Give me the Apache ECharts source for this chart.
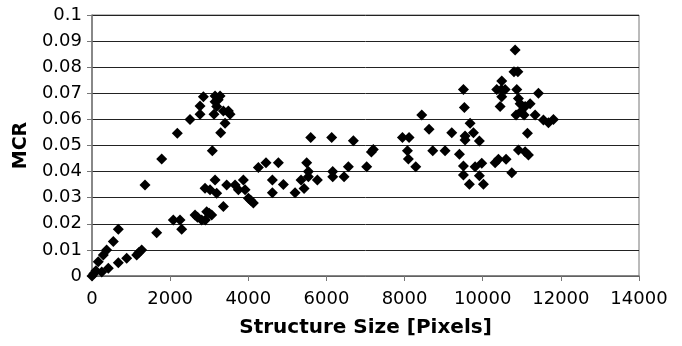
<!DOCTYPE html>
<html>
<head>
<meta charset="utf-8">
<script src="https://cdn.jsdelivr.net/npm/echarts@6/dist/echarts.min.js"></script>
<style>
  html, body { margin: 0; padding: 0; background: #fff; }
  #chart { width: 682px; height: 346px; }
</style>
</head>
<body>
<div id="chart"></div>
<script>
// structure size in pixels (x) and MCR (y)
var sizeValues = [
    0, 50, 100, 250, 160, 290, 375, 546, 674,
    418, 674, 888, 1144, 1200, 1272,
    1357, 1656, 1784, 2081, 2253, 2296, 2184, 2509,
    2765, 2765, 2850, 3149, 3277, 3149, 3192, 3123, 3362, 3490, 3533, 3405, 3294, 3080, 3230,
    2637, 2700, 2808, 2936, 3000, 3064, 2900, 2893, 3021, 3149, 3192, 3362, 3448, 3661, 3874, 3746, 3917, 4002, 4130, 4060,
    4258, 4454, 4770, 4617, 4617, 4898, 5197, 5350, 5427, 5495, 5538, 5538, 5598, 5768, 6135, 6161, 6161, 6451, 6562, 6690, 7031, 7150, 7200,
    7945, 8115, 8440, 8073, 8098, 8286, 8627, 8721,
    9037, 9208, 9404, 9506, 9531, 9677, 9549, 9549, 9762, 9915, 9506, 9805, 9976, 9506, 9915, 9659, 10018, 10317, 10402, 10598, 10744,
    10829, 10800, 10900, 10488, 10360, 10480, 10573, 10872, 11426, 10488, 10914, 10445, 10957, 11213, 11085, 10854, 11059, 11341,
    11554, 11682, 11810, 11145, 10914, 11085, 11170, 10980
];
var mcrValues = [
    0.0, 0.001, 0.002, 0.0015, 0.0055, 0.008, 0.010, 0.0132, 0.0179,
    0.003, 0.0051, 0.0068, 0.008, 0.009, 0.010,
    0.0349, 0.0166, 0.0448, 0.0215, 0.0215, 0.0179, 0.0547, 0.060,
    0.062, 0.0651, 0.0687, 0.069, 0.069, 0.0668, 0.0649, 0.062, 0.0632, 0.0632, 0.062, 0.0585, 0.0549, 0.048, 0.0675,
    0.0234, 0.0225, 0.0215, 0.0246, 0.024, 0.0234, 0.0215, 0.0336, 0.033, 0.0368, 0.0317, 0.0266, 0.0349, 0.0349, 0.0368, 0.033, 0.033, 0.0298, 0.028, 0.029,
    0.0416, 0.0434, 0.0434, 0.0368, 0.0319, 0.0351, 0.0319, 0.0368, 0.0335, 0.0434, 0.040, 0.038, 0.0531, 0.0368, 0.0531, 0.040, 0.038, 0.038, 0.0419, 0.0518, 0.0419, 0.0475, 0.0485,
    0.0531, 0.0531, 0.0617, 0.048, 0.0448, 0.0419, 0.0562, 0.048,
    0.048, 0.0549, 0.0466, 0.0715, 0.0646, 0.0585, 0.0536, 0.0521, 0.0549, 0.0517, 0.0421, 0.0419, 0.0432, 0.0387, 0.0384, 0.0352, 0.0352, 0.0434, 0.0447, 0.0447, 0.0396,
    0.0866, 0.0783, 0.0783, 0.0747, 0.0715, 0.0715, 0.0715, 0.0715, 0.070, 0.0687, 0.068, 0.0649, 0.066, 0.066, 0.0649, 0.0617, 0.0617, 0.0617,
    0.0598, 0.0587, 0.060, 0.0547, 0.0483, 0.0476, 0.0464, 0.063
];
var xTicks = [0, 2000, 4000, 6000, 8000, 10000, 12000, 14000];
var yTicks = [0, 0.01, 0.02, 0.03, 0.04, 0.05, 0.06, 0.07, 0.08, 0.09, 0.1];

var points = [];
for (var i = 0; i < sizeValues.length; i++) {
    points.push([sizeValues[i], mcrValues[i]]);
}

var chart = echarts.init(document.getElementById('chart'));
var option = {
    animation: false,
    backgroundColor: '#fff',
    grid: {
        left: 92,
        right: 43,
        top: 15,
        bottom: 70,
        show: true,
        borderColor: '#777',
        borderWidth: 1
    },
    xAxis: {
        type: 'value',
        min: xTicks[0],
        max: xTicks[xTicks.length - 1],
        interval: 2000,
        name: 'Structure Size [Pixels]',
        nameLocation: 'middle',
        nameGap: 42,
        nameTextStyle: {
            fontFamily: 'DejaVu Sans',
            fontWeight: 'bold',
            fontSize: 20,
            color: '#000'
        },
        axisLine: { show: true, lineStyle: { color: '#777', width: 1.5 } },
        axisTick: { show: true, inside: false, length: 5, lineStyle: { color: '#777' } },
        axisLabel: {
            margin: 14,
            fontFamily: 'DejaVu Sans',
            fontSize: 18,
            color: '#000',
            formatter: function (v) {
                return String(v);
            }
        },
        splitLine: { show: false }
    },
    yAxis: {
        type: 'value',
        min: yTicks[0],
        max: yTicks[yTicks.length - 1],
        interval: 0.01,
        name: 'MCR',
        nameLocation: 'middle',
        nameGap: 54,
        nameTextStyle: {
            fontFamily: 'DejaVu Sans',
            fontWeight: 'bold',
            fontSize: 19,
            color: '#000'
        },
        axisLine: { show: true, lineStyle: { color: '#777', width: 1.5 } },
        axisTick: { show: true, inside: false, length: 5, lineStyle: { color: '#777' } },
        axisLabel: {
            margin: 10,
            fontFamily: 'DejaVu Sans',
            fontSize: 18,
            color: '#000',
            formatter: function (v) {
                return String(Math.round(v * 100) / 100);
            }
        },
        splitLine: { show: true, lineStyle: { color: '#222', width: 1 } }
    },
    series: [{
        type: 'scatter',
        symbol: 'diamond',
        symbolSize: 11,
        itemStyle: { color: '#000', opacity: 1 },
        data: points
    }]
};
chart.setOption(option);
</script>
</body>
</html>
